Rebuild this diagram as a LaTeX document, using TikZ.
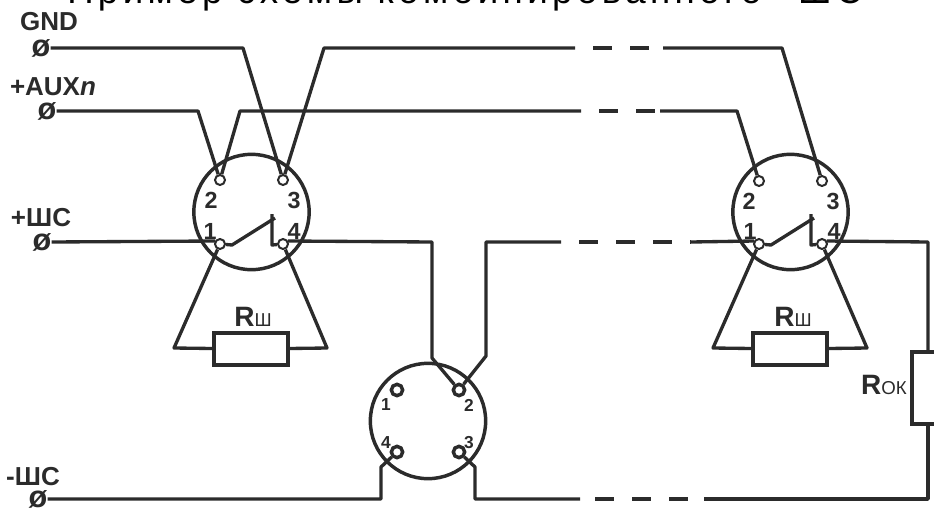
\documentclass[tikz,border=0pt]{standalone}
\usepackage{fontspec}
\setmainfont{Liberation Sans}
\newfontfamily\titlefont[LetterSpace=12]{Liberation Sans}
\usetikzlibrary{positioning}
\definecolor{ink}{RGB}{43,43,43}
\tikzset{wire/.style={line width=2.5pt, color=ink, line join=round}}
\tikzset{gapline/.style={wire, dash pattern=on 14.25pt off 13.5pt, dash phase=14.25pt}}
\tikzset{body/.style={draw=ink, circle, line width=2.6pt, minimum size=86.5pt, inner sep=0pt}}
\tikzset{pinhole/.style={draw=ink, circle, fill=white, line width=1.5pt, minimum size=7.5pt, inner sep=0pt}}
\tikzset{basepin/.style={draw=ink, circle, fill=white, line width=2.6pt, minimum size=8.5pt, inner sep=0pt}}
\tikzset{res/.style={draw=ink, rectangle, line width=2.5pt, inner sep=0pt}}
\tikzset{term/.style={inner sep=0pt, text=ink, font=\fontsize{23}{23}\selectfont\bfseries}}
\tikzset{tag/.style={inner sep=0pt, text=ink, font=\fontsize{19.5}{22}\selectfont\bfseries}}
\tikzset{pinno/.style={inner sep=0pt, text=ink, font=\fontsize{17.5}{20}\selectfont\bfseries}}
\tikzset{baseno/.style={inner sep=0pt, text=ink, font=\fontsize{13}{15}\selectfont\bfseries}}
\newcommand{\rlabel}[1]{{\fontsize{21}{22}\selectfont\bfseries R}{\fontsize{14}{15}\selectfont\mdseries #1}}

\begin{document}
\begin{tikzpicture}[x=0.75pt, y=-0.75pt]
    \useasboundingbox (0,0) rectangle (934,507);

    \node[anchor=base west, inner sep=0pt, font=\titlefont\fontsize{27.5}{30}\selectfont] (title) at (67,3)
        {Пример схемы комбинированного\hspace{0.6em} ШС};

    % terminals
    \node[term] (tgnd) at (41,48) {ø};
    \node[term] (taux) at (47,111) {ø};
    \node[term] (tplus) at (42,242) {ø};
    \node[term] (tminus) at (38,499) {ø};
    \node[tag] (lgnd) at (49,22) {GND};
    \node[tag] (laux) at (53,87) {+AUX\textit{n}};
    \node[tag] (lplus) at (41,218) {+ШС};
    \node[tag] (lminus) at (33,477) {-ШС};

    % first detector
    \node[body] (da) at (251.5,212) {};
    \node[pinhole] (a2) at (220,180) {};
    \node[pinhole] (a3) at (283,180) {};
    \node[pinhole] (a1) at (220,244) {};
    \node[pinhole] (a4) at (283,244) {};
    \node[pinno] at (211,200) {2};
    \node[pinno] at (294,200) {3};
    \node[pinno] at (210,231) {1};
    \node[pinno] at (294,231) {4};
    \node[res, minimum width=55.5pt, minimum height=24pt] (ra) at (251,349) {};
    \node[tag] at (253,317) {\rlabel{Ш}};

    % second detector
    \node[body] (dc) at (790.5,212) {};
    \node[pinhole] (c2) at (759,181) {};
    \node[pinhole] (c3) at (822,181) {};
    \node[pinhole] (c1) at (759,244) {};
    \node[pinhole] (c4) at (822,244) {};
    \node[pinno] at (749,201) {2};
    \node[pinno] at (833,201) {3};
    \node[pinno] at (750,231) {1};
    \node[pinno] at (834,231) {4};
    \node[res, minimum width=55.5pt, minimum height=24pt] (rc) at (790,349) {};
    \node[tag] at (793,317) {\rlabel{Ш}};

    % base
    \node[body] (db) at (428,421) {};
    \node[basepin] (b1) at (397,390) {};
    \node[basepin] (b2) at (459,390) {};
    \node[basepin] (b3) at (459,452) {};
    \node[basepin] (b4) at (397,452) {};
    \node[baseno] at (386,405) {1};
    \node[baseno] at (469,405) {2};
    \node[baseno] at (469,443) {3};
    \node[baseno] at (386,443) {4};

    % end of line resistor
    \node[res, minimum width=24pt, minimum height=54pt] (rok) at (928,388) {};
    \node[tag, anchor=east] at (907,385) {\rlabel{ОК}};

    % breaks in the long wires
    \coordinate (gndl) at (575,48);  \coordinate (gndr) at (663,48);
    \coordinate (auxl) at (581,111); \coordinate (auxr) at (660,111);
    \coordinate (shl) at (561,242);  \coordinate (shr) at (691,242);
    \coordinate (minl) at (577,499); \coordinate (minr) at (704,499);
    \draw[gapline] (gndl) -- (gndr);
    \draw[gapline] (auxl) -- (auxr);
    \draw[gapline] (shl) -- (shr);
    \draw[gapline] (minl) -- (minr);

    % wires
    \draw[wire] (tgnd.east |- gndl) -- (243,48) -- (a3);
    \draw[wire] (a3) -- (324,48) -- (gndl);
    \draw[wire] (gndr) -- (782,48) -- (c3);
    \draw[wire] (taux.east |- auxl) -- (198,111) -- (a2);
    \draw[wire] (a2) -- (240,111) -- (auxl);
    \draw[wire] (auxr) -- (737,111) -- (c2);
    \draw[wire] (tplus.east |- shl) -- (a1.150);
    \draw[wire] (a4.30) -- (432,242) -- (432,358) -- (b2);
    \draw[wire] (b2) -- (486,356) -- (486,242) -- (shl);
    \draw[wire] (shr) -- (c1.150);
    \draw[wire] (c4.30) -- (928,242) -- (rok);
    \draw[wire] (rok) -- (928,499) -- (minr);
    \draw[wire] (tminus.east |- minl) -- (381,499) -- (381,467) -- (b4);
    \draw[wire] (b3) -- (475,467) -- (475,499) -- (580,499);

    % shunts
    \draw[wire] (a1) -- (174,348) -- (ra);
    \draw[wire] (a4) -- (327,348) -- (ra);
    \draw[wire] (c1) -- (713,348) -- (rc);
    \draw[wire] (c4) -- (867,348) -- (rc);

    % contacts
    \draw[wire] (a1) -- (232,245) -- (275,218);
    \draw[wire] (a4) -- (272,245) -- (272,214);
    \draw[wire] (c1) -- (771,245) -- (814,218);
    \draw[wire] (c4) -- (811,245) -- (811,214);
\end{tikzpicture}
\end{document}
